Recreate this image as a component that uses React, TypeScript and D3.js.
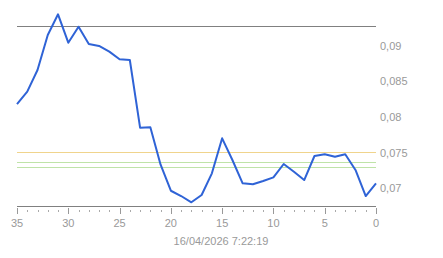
import React from "react";
import * as d3 from "d3";

const xValues = [35, 34, 33, 32, 31, 30, 29, 28, 27, 26, 25, 24, 23, 22, 21, 20, 19, 18, 17, 16, 15, 14, 13, 12, 11, 10, 9, 8, 7, 6, 5, 4, 3, 2, 1, 0];
const seriesValues = [
  0.08182, 0.08355, 0.08659, 0.0915, 0.0944, 0.09042, 0.09266, 0.09024, 0.08996, 0.08916,
  0.08809, 0.08799, 0.0785, 0.07856, 0.07331, 0.06966, 0.06892, 0.06804, 0.06906, 0.0721,
  0.07701, 0.07397, 0.0707, 0.07056, 0.07102, 0.07154, 0.07341, 0.07233, 0.07116, 0.07453,
  0.07477, 0.07443, 0.07477, 0.07257, 0.06892, 0.0707,
];
const yTickValues = [0.07, 0.075, 0.08, 0.085, 0.09];
const xMajorTicks = [35, 30, 25, 20, 15, 10, 5, 0];
const xMinorTicks = d3.range(0, 36).filter((v) => v % 5 !== 0);
const refLines = [
  { value: 0.09276, color: "#808080" },
  { value: 0.07504, color: "#f0d48c" },
  { value: 0.07365, color: "#bfe3a8" },
  { value: 0.07294, color: "#bfe3a8" },
];
const dateLabel = "16/04/2026 7:22:19";

const W = 443;
const H = 258;

export default function App() {
  const x = d3.scaleLinear().domain([35, 0]).range([17, 376]);
  const y = d3.scaleLinear().domain([0.06752, 0.09276]).range([206, 26]);
  const line = d3
    .line<number>()
    .x((_, i) => x(xValues[i]))
    .y((d) => y(d));
  const fmt = (v: number) => String(+v.toFixed(4)).replace(".", ",");
  const font = "Arial, 'Liberation Sans', sans-serif";

  return (
    <svg
      width={W}
      height={H}
      style={{ position: "absolute", left: 0, top: 0, background: "#fff" }}
    >
      {refLines.map((r, i) => (
        <line
          key={i}
          x1={17}
          x2={376}
          y1={Math.round(y(r.value)) + 0.5}
          y2={Math.round(y(r.value)) + 0.5}
          stroke={r.color}
          strokeWidth={1}
        />
      ))}
      <line x1={17} x2={376} y1={206.5} y2={206.5} stroke="#808080" strokeWidth={1} />
      {xMajorTicks.map((t) => (
        <g key={t}>
          <line
            x1={Math.round(x(t)) + 0.5}
            x2={Math.round(x(t)) + 0.5}
            y1={208}
            y2={214}
            stroke="#999"
          />
          <text
            x={x(t)}
            y={227}
            textAnchor="middle"
            fontFamily={font}
            fontSize={11}
            fill="#999"
          >
            {t}
          </text>
        </g>
      ))}
      {xMinorTicks.map((t) => (
        <line
          key={t}
          x1={Math.round(x(t)) + 0.5}
          x2={Math.round(x(t)) + 0.5}
          y1={210}
          y2={212}
          stroke="#aaa"
        />
      ))}
      {yTickValues.map((t) => (
        <text
          key={t}
          x={380}
          y={y(t) + 4}
          textAnchor="start"
          fontFamily={font}
          fontSize={11}
          fill="#999"
        >
          {fmt(t)}
        </text>
      ))}
      <path
        d={line(seriesValues) || ""}
        fill="none"
        stroke="#2f63d6"
        strokeWidth={2}
        strokeLinejoin="round"
      />
      <text
        x={221}
        y={245}
        textAnchor="middle"
        fontFamily={font}
        fontSize={11}
        fill="#999"
      >
        {dateLabel}
      </text>
    </svg>
  );
}
